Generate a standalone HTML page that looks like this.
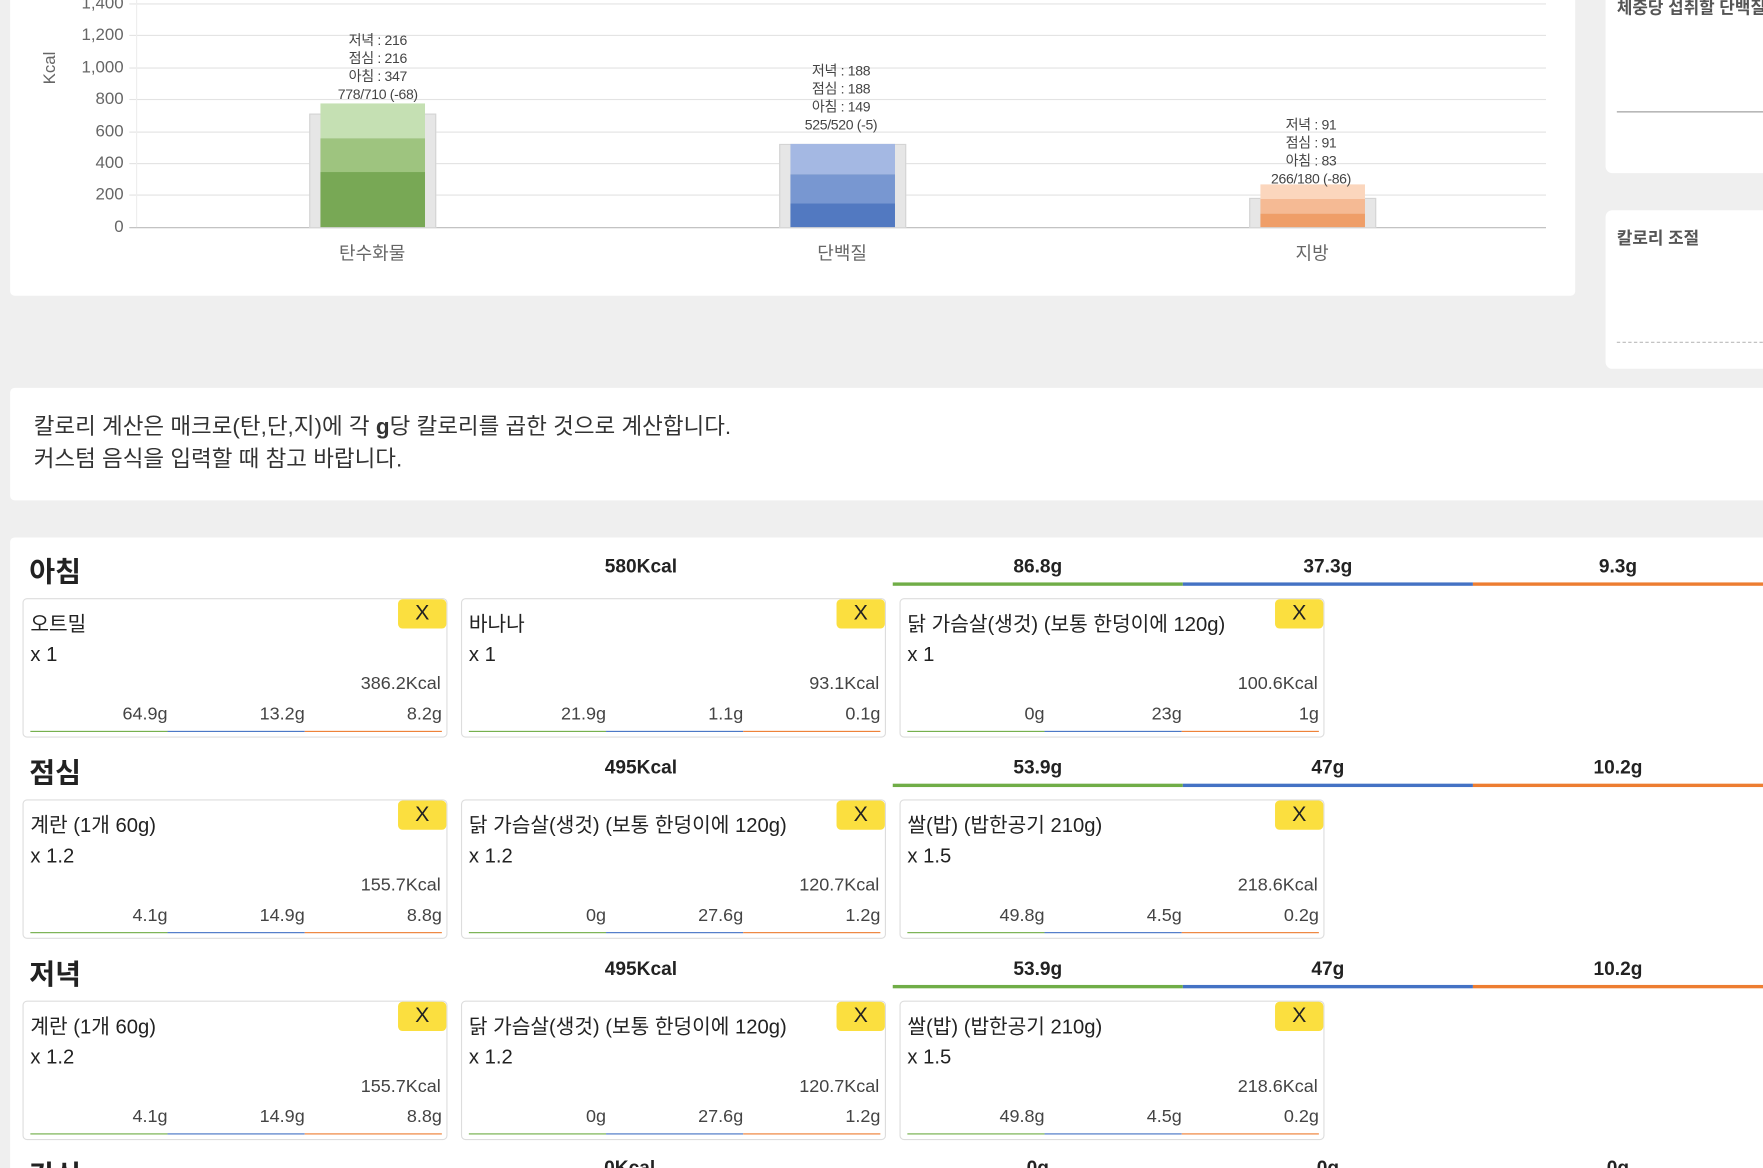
<!DOCTYPE html>
<html><head><meta charset="utf-8">
<style>
html,body{margin:0;padding:0;width:1763px;height:1168px;overflow:hidden;background:#efefef;}
#w{position:absolute;left:0;top:0;width:1568px;height:1039px;overflow:hidden;transform:scale(1.12436);transform-origin:0 0;font-family:"Liberation Sans","Noto Sans CJK KR",sans-serif;color:#222;}
.a{position:absolute;}
.card{position:absolute;background:#fff;border-radius:4px;}
.t{position:absolute;white-space:nowrap;}
.yl{position:absolute;font-size:15px;color:#666;transform:translateY(-50%);width:60px;text-align:right;left:50px}
.gl{position:absolute;left:115px;width:1260px;height:1px;background:#e3e3e3;}
.lab{position:absolute;font-size:12.5px;color:#444;text-align:center;width:140px;line-height:16px;letter-spacing:-0.3px}
.cat{position:absolute;font-size:16px;color:#666;width:120px;text-align:center;top:212px;}
.fc{position:absolute;width:376px;height:122px;border:1px solid #ddd;border-radius:4px;background:#fff;}
.fc .n{position:absolute;left:6px;top:8px;font-size:18px;white-space:nowrap;}
.fc .q{position:absolute;left:6px;top:39px;font-size:18px;}
.fc .k{position:absolute;right:5px;top:67px;font-size:16px;color:#444;}
.fc .m{position:absolute;top:94px;font-size:16px;color:#444;text-align:right;width:100px;}
.fc .l{position:absolute;top:117px;height:1px;width:122px;}
.fc .x{position:absolute;right:0;top:0;width:43px;height:26px;background:#fbdf3f;border-radius:4px;font-size:19px;text-align:center;line-height:26px;}
.mh{position:absolute;left:26px;font-size:25px;font-weight:bold;}
.mk{position:absolute;font-size:17px;font-weight:bold;text-align:center;width:160px;}
.bar{position:absolute;height:3px;width:258px;}
</style></head><body><div id="w">
<div class="card" style="left:9px;top:-10px;width:1392px;height:273px;"></div>
<div class="gl" style="top:3px"></div><div class="gl" style="top:31px"></div><div class="gl" style="top:60px"></div><div class="gl" style="top:88px"></div><div class="gl" style="top:117px"></div><div class="gl" style="top:145px"></div><div class="gl" style="top:173px"></div><div class="gl" style="top:202px;background:#bbb"></div>
<div class="a" style="left:121px;top:0;width:1px;height:202px;background:#eee"></div>
<div class="yl" style="top:3px">1,400</div><div class="yl" style="top:31px">1,200</div><div class="yl" style="top:60px">1,000</div><div class="yl" style="top:88px">800</div><div class="yl" style="top:117px">600</div><div class="yl" style="top:145px">400</div><div class="yl" style="top:173px">200</div><div class="yl" style="top:202px">0</div>
<div class="t" style="left:30px;top:52px;transform:rotate(-90deg);font-size:15px;color:#666;">Kcal</div>
<div class="a" style="left:275px;top:101px;width:111px;height:100px;background:#e6e6e6;border:1px solid #d4d4d4"></div>
<div class="a" style="left:285px;top:92px;width:93px;height:31px;background:#c5e0b3"></div>
<div class="a" style="left:285px;top:123px;width:93px;height:30px;background:#9ec47f"></div>
<div class="a" style="left:285px;top:153px;width:93px;height:49px;background:#78a855"></div>
<div class="lab" style="left:266px;top:28px">저녁 : 216<br>점심 : 216<br>아침 : 347<br>778/710 (-68)</div>
<div class="cat" style="left:271px">탄수화물</div>
<div class="a" style="left:693px;top:128px;width:111px;height:73px;background:#e6e6e6;border:1px solid #d4d4d4"></div>
<div class="a" style="left:703px;top:128px;width:93px;height:27px;background:#a4b8e3"></div>
<div class="a" style="left:703px;top:155px;width:93px;height:26px;background:#7897d1"></div>
<div class="a" style="left:703px;top:181px;width:93px;height:21px;background:#5279c1"></div>
<div class="lab" style="left:678px;top:55px">저녁 : 188<br>점심 : 188<br>아침 : 149<br>525/520 (-5)</div>
<div class="cat" style="left:689px">단백질</div>
<div class="a" style="left:1111px;top:176px;width:111px;height:25px;background:#e6e6e6;border:1px solid #d4d4d4"></div>
<div class="a" style="left:1121px;top:164px;width:93px;height:13px;background:#fbd6bd"></div>
<div class="a" style="left:1121px;top:177px;width:93px;height:13px;background:#f5ba94"></div>
<div class="a" style="left:1121px;top:190px;width:93px;height:12px;background:#ef9e68"></div>
<div class="lab" style="left:1096px;top:103px">저녁 : 91<br>점심 : 91<br>아침 : 83<br>266/180 (-86)</div>
<div class="cat" style="left:1107px">지방</div>
<div class="card" style="left:1428px;top:-10px;width:150px;height:164px;border-radius:6px"></div>
<div class="t" style="left:1438px;top:-4px;font-size:15px;font-weight:bold;color:#555">체중당 섭취할 단백질</div>
<div class="a" style="left:1438px;top:99px;width:140px;height:1px;background:#999"></div>
<div class="card" style="left:1428px;top:187px;width:150px;height:141px;border-radius:6px"></div>
<div class="t" style="left:1438px;top:201px;font-size:15px;font-weight:bold;color:#555">칼로리 조절</div>
<div class="a" style="left:1438px;top:304px;width:140px;border-top:1px dashed #bbb"></div>
<div class="card" style="left:9px;top:345px;width:1570px;height:100px;"></div>
<div class="t" style="left:30px;top:366px;font-size:20px;color:#333;line-height:29px">칼로리 계산은 매크로(탄,단,지)에 각 <b>g</b>당 칼로리를 곱한 것으로 계산합니다.<br>커스텀 음식을 입력할 때 참고 바랍니다.</div>
<div class="card" style="left:9px;top:478px;width:1570px;height:600px;"></div>

<div class="mh" style="top:489px">아침</div>
<div class="mk" style="left:490px;top:494px">580Kcal</div>
<div class="mk" style="left:843px;top:494px">86.8g</div><div class="mk" style="left:1101px;top:494px">37.3g</div><div class="mk" style="left:1359px;top:494px">9.3g</div>
<div class="bar" style="left:794px;top:518px;background:#70ad47"></div><div class="bar" style="left:1052px;top:518px;background:#4472c4"></div><div class="bar" style="left:1310px;top:518px;background:#ed7d31"></div>
<div class="fc" style="left:20px;top:532px"><div class="n">오트밀</div><div class="q">x 1</div><div class="k">386.2Kcal</div><div class="m" style="left:28px">64.9g</div><div class="m" style="left:150px">13.2g</div><div class="m" style="left:272px">8.2g</div><div class="l" style="left:6px;background:#70ad47"></div><div class="l" style="left:128px;background:#4472c4"></div><div class="l" style="left:250px;background:#ed7d31"></div><div class="x">X</div></div>
<div class="fc" style="left:410px;top:532px"><div class="n">바나나</div><div class="q">x 1</div><div class="k">93.1Kcal</div><div class="m" style="left:28px">21.9g</div><div class="m" style="left:150px">1.1g</div><div class="m" style="left:272px">0.1g</div><div class="l" style="left:6px;background:#70ad47"></div><div class="l" style="left:128px;background:#4472c4"></div><div class="l" style="left:250px;background:#ed7d31"></div><div class="x">X</div></div>
<div class="fc" style="left:800px;top:532px"><div class="n">닭 가슴살(생것) (보통 한덩이에 120g)</div><div class="q">x 1</div><div class="k">100.6Kcal</div><div class="m" style="left:28px">0g</div><div class="m" style="left:150px">23g</div><div class="m" style="left:272px">1g</div><div class="l" style="left:6px;background:#70ad47"></div><div class="l" style="left:128px;background:#4472c4"></div><div class="l" style="left:250px;background:#ed7d31"></div><div class="x">X</div></div>

<div class="mh" style="top:668px">점심</div>
<div class="mk" style="left:490px;top:673px">495Kcal</div>
<div class="mk" style="left:843px;top:673px">53.9g</div><div class="mk" style="left:1101px;top:673px">47g</div><div class="mk" style="left:1359px;top:673px">10.2g</div>
<div class="bar" style="left:794px;top:697px;background:#70ad47"></div><div class="bar" style="left:1052px;top:697px;background:#4472c4"></div><div class="bar" style="left:1310px;top:697px;background:#ed7d31"></div>
<div class="fc" style="left:20px;top:711px"><div class="n">계란 (1개 60g)</div><div class="q">x 1.2</div><div class="k">155.7Kcal</div><div class="m" style="left:28px">4.1g</div><div class="m" style="left:150px">14.9g</div><div class="m" style="left:272px">8.8g</div><div class="l" style="left:6px;background:#70ad47"></div><div class="l" style="left:128px;background:#4472c4"></div><div class="l" style="left:250px;background:#ed7d31"></div><div class="x">X</div></div>
<div class="fc" style="left:410px;top:711px"><div class="n">닭 가슴살(생것) (보통 한덩이에 120g)</div><div class="q">x 1.2</div><div class="k">120.7Kcal</div><div class="m" style="left:28px">0g</div><div class="m" style="left:150px">27.6g</div><div class="m" style="left:272px">1.2g</div><div class="l" style="left:6px;background:#70ad47"></div><div class="l" style="left:128px;background:#4472c4"></div><div class="l" style="left:250px;background:#ed7d31"></div><div class="x">X</div></div>
<div class="fc" style="left:800px;top:711px"><div class="n">쌀(밥) (밥한공기 210g)</div><div class="q">x 1.5</div><div class="k">218.6Kcal</div><div class="m" style="left:28px">49.8g</div><div class="m" style="left:150px">4.5g</div><div class="m" style="left:272px">0.2g</div><div class="l" style="left:6px;background:#70ad47"></div><div class="l" style="left:128px;background:#4472c4"></div><div class="l" style="left:250px;background:#ed7d31"></div><div class="x">X</div></div>

<div class="mh" style="top:847px">저녁</div>
<div class="mk" style="left:490px;top:852px">495Kcal</div>
<div class="mk" style="left:843px;top:852px">53.9g</div><div class="mk" style="left:1101px;top:852px">47g</div><div class="mk" style="left:1359px;top:852px">10.2g</div>
<div class="bar" style="left:794px;top:876px;background:#70ad47"></div><div class="bar" style="left:1052px;top:876px;background:#4472c4"></div><div class="bar" style="left:1310px;top:876px;background:#ed7d31"></div>
<div class="fc" style="left:20px;top:890px"><div class="n">계란 (1개 60g)</div><div class="q">x 1.2</div><div class="k">155.7Kcal</div><div class="m" style="left:28px">4.1g</div><div class="m" style="left:150px">14.9g</div><div class="m" style="left:272px">8.8g</div><div class="l" style="left:6px;background:#70ad47"></div><div class="l" style="left:128px;background:#4472c4"></div><div class="l" style="left:250px;background:#ed7d31"></div><div class="x">X</div></div>
<div class="fc" style="left:410px;top:890px"><div class="n">닭 가슴살(생것) (보통 한덩이에 120g)</div><div class="q">x 1.2</div><div class="k">120.7Kcal</div><div class="m" style="left:28px">0g</div><div class="m" style="left:150px">27.6g</div><div class="m" style="left:272px">1.2g</div><div class="l" style="left:6px;background:#70ad47"></div><div class="l" style="left:128px;background:#4472c4"></div><div class="l" style="left:250px;background:#ed7d31"></div><div class="x">X</div></div>
<div class="fc" style="left:800px;top:890px"><div class="n">쌀(밥) (밥한공기 210g)</div><div class="q">x 1.5</div><div class="k">218.6Kcal</div><div class="m" style="left:28px">49.8g</div><div class="m" style="left:150px">4.5g</div><div class="m" style="left:272px">0.2g</div><div class="l" style="left:6px;background:#70ad47"></div><div class="l" style="left:128px;background:#4472c4"></div><div class="l" style="left:250px;background:#ed7d31"></div><div class="x">X</div></div>

<div class="mh" style="top:1026px">간식</div>
<div class="mk" style="left:480px;top:1029px">0Kcal</div>
<div class="mk" style="left:843px;top:1029px">0g</div><div class="mk" style="left:1101px;top:1029px">0g</div><div class="mk" style="left:1359px;top:1029px">0g</div>
</div></body></html>
